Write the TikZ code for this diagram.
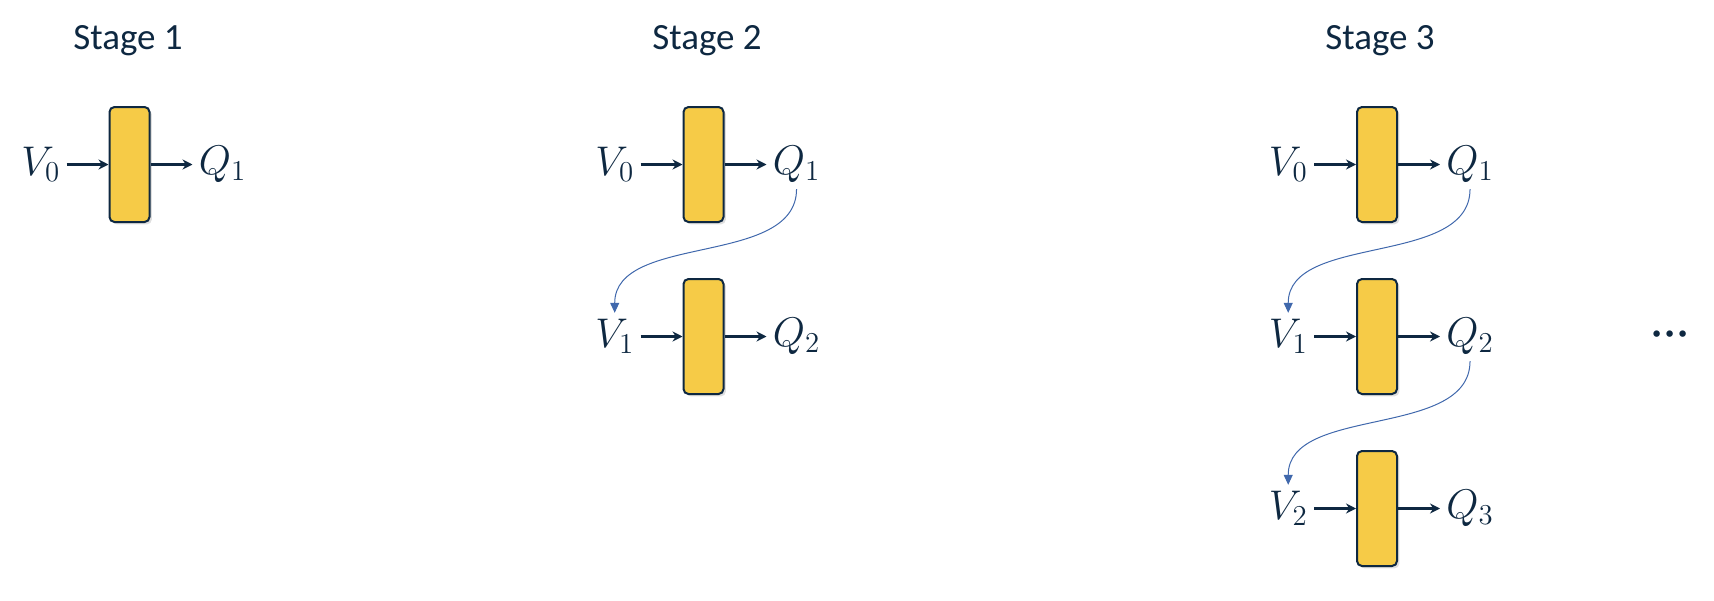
\documentclass[tikz,border=0pt]{standalone}
\usepackage[no-math]{fontspec}
\newfontfamily\stagefont{Carlito}
\usepackage{xcolor}
\usetikzlibrary{arrows.meta, positioning, shadows}

\definecolor{navy}{HTML}{0E2841}
\definecolor{gold}{HTML}{F6CB47}
\definecolor{linkblue}{HTML}{4068AC}

\begin{document}
\begin{tikzpicture}[
    x=0.5pt, y=0.5pt,
    node distance=27.5pt and 21pt,
    title/.style={font=\stagefont\fontsize{18.5}{22}\selectfont, text=navy},
    cell/.style={draw=navy, line width=1pt, fill=gold, rectangle, rounded corners=2.5pt, minimum width=20pt, minimum height=57.5pt, drop shadow={shadow xshift=1.2pt, shadow yshift=-1.2pt, opacity=0.25}},
    var/.style={font=\fontsize{20.5}{24}\selectfont, text=navy, inner sep=3pt},
    flow/.style={-{Stealth[length=5pt, width=5pt]}, line width=1.3pt, draw=navy},
    carry/.style={-{Triangle[length=5pt, width=4.5pt]}, line width=0.5pt, draw=linkblue}
]
\useasboundingbox (0,0) rectangle (1714,-600);

% Titles
\node[title] (t1) at (128,-41) {Stage 1};
\node[title] (t2) at (707,-41) {Stage 2};
\node[title] (t3) at (1380,-41) {Stage 3};

% Stage 1
\node[cell] (c11) at (129.5,-164.5) {};
\node[var, left=of c11] (v11) {$V_0$};
\node[var, right=of c11] (q11) {$Q_1$};

% Stage 2
\node[cell] (c21) at (703.5,-164.5) {};
\node[cell, below=of c21] (c22) {};
\node[var, left=of c21] (v21) {$V_0$};
\node[var, right=of c21] (q21) {$Q_1$};
\node[var, left=of c22] (v22) {$V_1$};
\node[var, right=of c22] (q22) {$Q_2$};

% Stage 3
\node[cell] (c31) at (1377,-164.5) {};
\node[cell, below=of c31] (c32) {};
\node[cell, below=of c32] (c33) {};
\node[var, left=of c31] (v31) {$V_0$};
\node[var, right=of c31] (q31) {$Q_1$};
\node[var, left=of c32] (v32) {$V_1$};
\node[var, right=of c32] (q32) {$Q_2$};
\node[var, left=of c33] (v33) {$V_2$};
\node[var, right=of c33] (q33) {$Q_3$};

\node[var, font=\fontsize{20.5}{24}\selectfont\boldmath, anchor=base] (dots) at (1670,-344) {${\cdot}{\cdot}{\cdot}$};

% Connections
\draw[flow] (v11) -- (c11);
\draw[flow] (c11) -- (q11);
\draw[flow] (v21) -- (c21);
\draw[flow] (c21) -- (q21);
\draw[flow] (v22) -- (c22);
\draw[flow] (c22) -- (q22);
\draw[flow] (v31) -- (c31);
\draw[flow] (c31) -- (q31);
\draw[flow] (v32) -- (c32);
\draw[flow] (c32) -- (q32);
\draw[flow] (v33) -- (c33);
\draw[flow] (c33) -- (q33);

% Carry over Q -> V
\draw[carry] (q21.south) .. controls +(0,-78) and +(0,80) .. (v22.north);
\draw[carry] (q31.south) .. controls +(0,-78) and +(0,80) .. (v32.north);
\draw[carry] (q32.south) .. controls +(0,-78) and +(0,80) .. (v33.north);

\end{tikzpicture}
\end{document}
